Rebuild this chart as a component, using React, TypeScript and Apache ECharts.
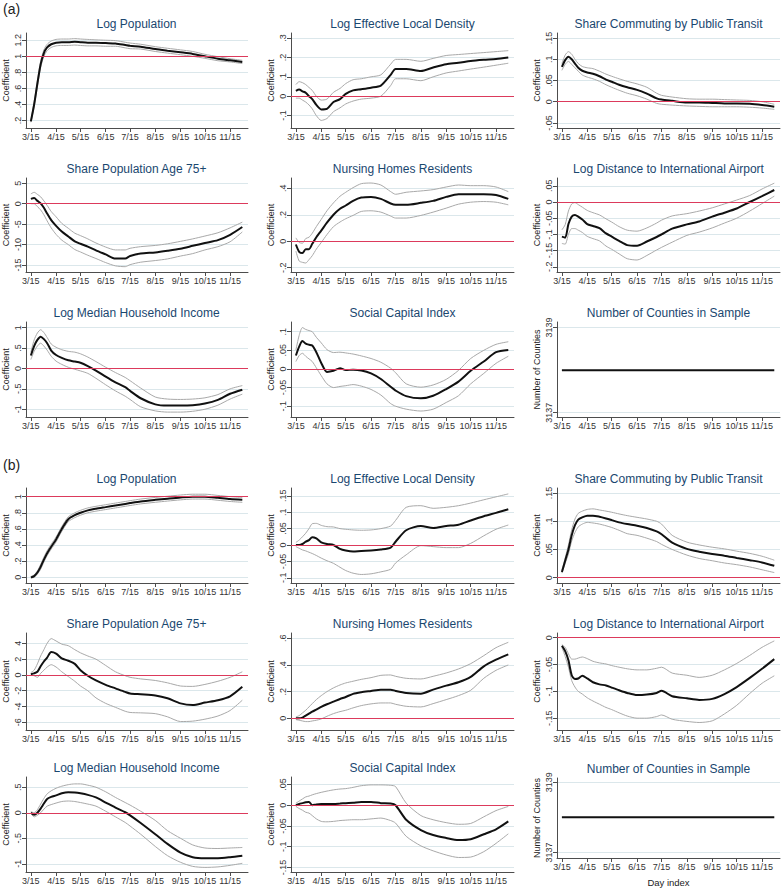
import React, { useEffect, useRef } from "react";
import * as echarts from "echarts";

// ---------- shared axes data ----------
const days = [0, 4, 8, 12, 16, 20, 25, 31, 38, 46, 54, 61, 70, 80, 92, 104, 116, 122, 135, 153, 168, 184, 199, 214, 230, 245, 260];
const monthTickDays = [0, 31, 61, 92, 122, 153, 184, 214, 245];
const monthTickLabels = ["3/15", "4/15", "5/15", "6/15", "7/15", "8/15", "9/15", "10/15", "11/15"];

const panelTitles = [
  "Log Population",
  "Log Effective Local Density",
  "Share Commuting by Public Transit",
  "Share Population Age 75+",
  "Nursing Homes Residents",
  "Log Distance to International Airport",
  "Log Median Household Income",
  "Social Capital Index",
  "Number of Counties in Sample",
];

// ---------- panel (a) ----------
const a1Est = [0.19, 0.40, 0.66, 0.90, 1.04, 1.11, 1.15, 1.17, 1.175, 1.175, 1.18, 1.175, 1.17, 1.17, 1.165, 1.16, 1.14, 1.13, 1.12, 1.09, 1.07, 1.05, 1.03, 1.00, 0.97, 0.95, 0.93];
const a1Hi = [0.20, 0.43, 0.70, 0.94, 1.08, 1.15, 1.19, 1.21, 1.215, 1.215, 1.22, 1.215, 1.21, 1.205, 1.20, 1.195, 1.175, 1.165, 1.15, 1.12, 1.10, 1.08, 1.06, 1.025, 0.995, 0.97, 0.95];
const a1Lo = [0.18, 0.37, 0.62, 0.86, 1.00, 1.07, 1.11, 1.13, 1.135, 1.135, 1.14, 1.135, 1.13, 1.13, 1.125, 1.125, 1.105, 1.095, 1.09, 1.06, 1.04, 1.02, 1.00, 0.975, 0.945, 0.93, 0.91];
const a1Ticks = [0.2, 0.4, 0.6, 0.8, 1, 1.2];

const a2Est = [0.027, 0.034, 0.025, 0.018, 0.0, -0.015, -0.045, -0.068, -0.065, -0.03, -0.015, 0.012, 0.03, 0.036, 0.044, 0.055, 0.11, 0.14, 0.14, 0.13, 0.148, 0.165, 0.172, 0.182, 0.188, 0.192, 0.2];
const a2Hi = [0.06, 0.075, 0.07, 0.06, 0.045, 0.03, 0.0, -0.02, -0.015, 0.02, 0.04, 0.065, 0.085, 0.09, 0.1, 0.11, 0.165, 0.19, 0.19, 0.18, 0.195, 0.21, 0.215, 0.22, 0.225, 0.23, 0.235];
const a2Lo = [-0.01, -0.01, -0.02, -0.03, -0.045, -0.065, -0.1, -0.125, -0.115, -0.08, -0.06, -0.04, -0.025, -0.015, -0.01, 0.0, 0.055, 0.09, 0.09, 0.08, 0.1, 0.12, 0.13, 0.14, 0.15, 0.16, 0.17];
const a2Ticks = [-0.1, 0, 0.1, 0.2, 0.3];

const a3Est = [0.082, 0.098, 0.106, 0.1, 0.09, 0.08, 0.073, 0.069, 0.066, 0.06, 0.052, 0.047, 0.04, 0.034, 0.028, 0.019, 0.008, 0.005, 0.002, -0.002, -0.002, -0.003, -0.004, -0.004, -0.005, -0.008, -0.012];
const a3Hi = [0.09, 0.11, 0.118, 0.112, 0.1, 0.09, 0.083, 0.08, 0.078, 0.072, 0.065, 0.06, 0.054, 0.048, 0.042, 0.034, 0.02, 0.015, 0.011, 0.007, 0.006, 0.006, 0.005, 0.004, 0.003, 0.0, -0.006];
const a3Lo = [0.074, 0.088, 0.095, 0.088, 0.08, 0.072, 0.063, 0.058, 0.054, 0.048, 0.04, 0.034, 0.027, 0.02, 0.014, 0.006, -0.004, -0.006, -0.008, -0.01, -0.011, -0.012, -0.012, -0.012, -0.013, -0.015, -0.018];
const a3Ticks = [-0.05, 0, 0.05, 0.1, 0.15];

const a4Est = [1.2, 1.4, 0.7, 0.1, -1.0, -2.4, -4.0, -5.4, -6.8, -8.0, -9.2, -9.8, -10.5, -11.4, -12.4, -13.4, -13.4, -12.8, -12.2, -11.9, -11.5, -11.0, -10.3, -9.6, -8.9, -7.6, -5.7];
const a4Hi = [2.4, 2.8, 2.3, 1.7, 0.7, -0.4, -1.9, -3.2, -4.8, -6.0, -7.2, -7.8, -8.6, -9.6, -10.6, -11.3, -11.3, -10.9, -10.5, -10.2, -9.8, -9.2, -8.6, -7.9, -7.1, -5.9, -4.5];
const a4Lo = [0.0, 0.0, -0.7, -1.5, -2.7, -4.2, -5.9, -7.5, -8.9, -10.0, -11.2, -11.8, -12.6, -13.4, -14.4, -15.2, -15.4, -14.9, -14.3, -13.9, -13.5, -12.8, -12.2, -11.3, -10.5, -9.3, -6.9];
const a4Ticks = [-15, -10, -5, 0, 5];

const a5Est = [-0.025, -0.08, -0.09, -0.06, -0.06, -0.02, 0.03, 0.08, 0.14, 0.2, 0.245, 0.27, 0.305, 0.33, 0.335, 0.32, 0.285, 0.275, 0.275, 0.29, 0.305, 0.335, 0.355, 0.355, 0.355, 0.35, 0.32];
const a5Hi = [0.025, -0.01, -0.015, 0.02, 0.03, 0.06, 0.11, 0.165, 0.23, 0.29, 0.34, 0.37, 0.405, 0.435, 0.44, 0.425, 0.375, 0.355, 0.37, 0.38, 0.39, 0.41, 0.425, 0.42, 0.42, 0.41, 0.375];
const a5Lo = [-0.075, -0.15, -0.16, -0.165, -0.14, -0.11, -0.06, -0.01, 0.05, 0.11, 0.145, 0.17, 0.195, 0.225, 0.23, 0.22, 0.19, 0.175, 0.175, 0.195, 0.22, 0.25, 0.28, 0.295, 0.3, 0.295, 0.275];
const a5Ticks = [-0.2, 0, 0.2, 0.4];

const a6Est = [-0.107, -0.11, -0.068, -0.045, -0.04, -0.045, -0.054, -0.068, -0.074, -0.081, -0.097, -0.107, -0.12, -0.133, -0.135, -0.122, -0.108, -0.1, -0.082, -0.069, -0.06, -0.045, -0.033, -0.02, 0.0, 0.018, 0.037];
const a6Hi = [-0.086, -0.07, -0.028, -0.006, -0.002, -0.008, -0.016, -0.026, -0.033, -0.04, -0.052, -0.062, -0.076, -0.087, -0.09, -0.08, -0.065, -0.056, -0.043, -0.036, -0.028, -0.018, -0.006, 0.006, 0.02, 0.04, 0.058];
const a6Lo = [-0.128, -0.13, -0.1, -0.082, -0.082, -0.087, -0.094, -0.106, -0.113, -0.12, -0.136, -0.146, -0.16, -0.175, -0.179, -0.165, -0.148, -0.14, -0.124, -0.103, -0.093, -0.08, -0.065, -0.05, -0.028, -0.005, 0.018];
const a6Ticks = [-0.2, -0.15, -0.1, -0.05, 0, 0.05];

const a7Est = [0.32, 0.55, 0.7, 0.78, 0.72, 0.62, 0.44, 0.33, 0.26, 0.2, 0.17, 0.14, 0.06, -0.05, -0.2, -0.34, -0.46, -0.55, -0.73, -0.88, -0.91, -0.91, -0.9, -0.86, -0.77, -0.62, -0.52];
const a7Hi = [0.4, 0.7, 0.87, 0.95, 0.88, 0.76, 0.6, 0.52, 0.46, 0.42, 0.4, 0.36, 0.28, 0.17, 0.03, -0.1, -0.22, -0.3, -0.48, -0.7, -0.75, -0.76, -0.75, -0.72, -0.64, -0.5, -0.42];
const a7Lo = [0.22, 0.42, 0.55, 0.62, 0.55, 0.45, 0.3, 0.18, 0.1, 0.03, -0.02, -0.06, -0.12, -0.24, -0.4, -0.55, -0.68, -0.76, -0.94, -1.04, -1.07, -1.07, -1.05, -1.0, -0.9, -0.75, -0.63];
const a7Ticks = [-1, -0.5, 0, 0.5, 1];

const a8Est = [0.036, 0.06, 0.075, 0.068, 0.065, 0.063, 0.045, 0.016, -0.008, -0.005, 0.002, -0.003, -0.002, -0.004, -0.012, -0.027, -0.048, -0.058, -0.073, -0.079, -0.072, -0.054, -0.034, -0.005, 0.02, 0.045, 0.051];
const a8Hi = [0.051, 0.09, 0.111, 0.106, 0.103, 0.1, 0.085, 0.07, 0.052, 0.044, 0.045, 0.043, 0.04, 0.035, 0.028, 0.018, 0.002, -0.01, -0.04, -0.049, -0.043, -0.028, -0.004, 0.028, 0.05, 0.066, 0.073];
const a8Lo = [0.02, 0.036, 0.042, 0.034, 0.027, 0.02, 0.003, -0.018, -0.04, -0.05, -0.047, -0.045, -0.042, -0.046, -0.055, -0.07, -0.093, -0.1, -0.108, -0.113, -0.108, -0.09, -0.072, -0.04, -0.012, 0.015, 0.034];
const a8Ticks = [-0.1, -0.05, 0, 0.05, 0.1];

// ---------- panel (b) ----------
const b1Est = [0.0, 0.015, 0.06, 0.13, 0.22, 0.3, 0.38, 0.47, 0.6, 0.72, 0.77, 0.8, 0.83, 0.85, 0.87, 0.89, 0.91, 0.92, 0.94, 0.96, 0.975, 0.99, 1.0, 1.0, 0.985, 0.97, 0.96];
const b1Hi = [0.01, 0.03, 0.08, 0.16, 0.25, 0.33, 0.41, 0.5, 0.63, 0.75, 0.8, 0.83, 0.86, 0.88, 0.9, 0.92, 0.94, 0.95, 0.97, 0.99, 1.005, 1.02, 1.03, 1.03, 1.015, 1.0, 0.99];
const b1Lo = [-0.01, 0.0, 0.04, 0.1, 0.19, 0.27, 0.35, 0.44, 0.57, 0.69, 0.74, 0.77, 0.8, 0.82, 0.84, 0.86, 0.88, 0.89, 0.91, 0.93, 0.945, 0.96, 0.97, 0.97, 0.955, 0.94, 0.93];
const b1Ticks = [0, 0.2, 0.4, 0.6, 0.8, 1];

const b2Est = [0.0, 0.0, 0.003, 0.01, 0.015, 0.024, 0.02, 0.008, 0.003, 0.0, -0.012, -0.017, -0.02, -0.018, -0.017, -0.014, -0.008, 0.01, 0.045, 0.058, 0.052, 0.058, 0.062, 0.075, 0.088, 0.098, 0.109];
const b2Hi = [0.008, 0.015, 0.025, 0.036, 0.05, 0.065, 0.066, 0.06, 0.056, 0.055, 0.05, 0.048, 0.046, 0.045, 0.046, 0.05, 0.058, 0.075, 0.115, 0.12, 0.112, 0.115, 0.12, 0.128, 0.138, 0.147, 0.156];
const b2Lo = [-0.005, -0.01, -0.015, -0.018, -0.022, -0.026, -0.032, -0.04, -0.048, -0.056, -0.068, -0.078, -0.086, -0.09, -0.088, -0.082, -0.074, -0.055, -0.03, -0.002, -0.005, -0.008, -0.008, 0.005, 0.028, 0.048, 0.061];
const b2Ticks = [-0.1, -0.05, 0, 0.05, 0.1, 0.15];

const b3Est = [0.01, 0.03, 0.05, 0.075, 0.093, 0.103, 0.107, 0.11, 0.11, 0.108, 0.105, 0.102, 0.098, 0.095, 0.092, 0.088, 0.082, 0.077, 0.062, 0.051, 0.046, 0.042, 0.039, 0.035, 0.031, 0.027, 0.021];
const b3Hi = [0.013, 0.035, 0.058, 0.085, 0.104, 0.114, 0.118, 0.121, 0.122, 0.12, 0.118, 0.116, 0.113, 0.11, 0.107, 0.104, 0.1, 0.095, 0.075, 0.063, 0.058, 0.054, 0.051, 0.047, 0.043, 0.038, 0.031];
const b3Lo = [0.008, 0.025, 0.042, 0.065, 0.08, 0.09, 0.095, 0.098, 0.097, 0.095, 0.092, 0.089, 0.084, 0.078, 0.075, 0.07, 0.064, 0.059, 0.05, 0.04, 0.034, 0.03, 0.026, 0.023, 0.019, 0.014, 0.009];
const b3Ticks = [0, 0.05, 0.1, 0.15];

const b4Est = [0.1, 0.2, 0.4, 1.1, 1.7, 2.2, 2.9, 2.7, 2.1, 1.8, 1.4, 0.6, -0.1, -0.7, -1.25, -1.7, -2.15, -2.35, -2.45, -2.6, -2.95, -3.6, -3.8, -3.5, -3.2, -2.7, -1.5];
const b4Hi = [0.3, 0.6, 1.4, 2.4, 3.2, 4.0, 4.6, 4.3, 3.9, 3.7, 3.2, 2.8, 2.4, 2.0, 1.2, 0.4, -0.1, -0.3, -0.5, -0.7, -1.0, -1.4, -1.45, -1.2, -0.8, -0.3, 0.4];
const b4Lo = [0.0, -0.1, -0.3, 0.2, 0.6, 1.0, 1.3, 1.0, 0.4, -0.2, -0.8, -1.4, -2.0, -2.9, -3.6, -4.1, -4.6, -4.75, -4.8, -4.9, -5.3, -5.9, -5.85, -5.6, -5.2, -4.5, -3.2];
const b4Ticks = [-6, -4, -2, 0, 2, 4];

const b5Est = [0.0, 0.0, 0.005, 0.02, 0.035, 0.05, 0.065, 0.085, 0.105, 0.125, 0.145, 0.16, 0.183, 0.195, 0.205, 0.215, 0.215, 0.205, 0.19, 0.185, 0.215, 0.245, 0.27, 0.31, 0.39, 0.44, 0.48];
const b5Hi = [0.01, 0.02, 0.04, 0.06, 0.085, 0.11, 0.14, 0.17, 0.2, 0.228, 0.25, 0.265, 0.278, 0.292, 0.305, 0.322, 0.325, 0.315, 0.3, 0.295, 0.315, 0.34, 0.37, 0.41, 0.47, 0.53, 0.57];
const b5Lo = [-0.01, -0.015, -0.02, -0.025, -0.025, -0.02, -0.015, -0.005, 0.015, 0.035, 0.05, 0.06, 0.078, 0.095, 0.108, 0.115, 0.115, 0.105, 0.09, 0.085, 0.11, 0.14, 0.17, 0.21, 0.3, 0.36, 0.4];
const b5Ticks = [0, 0.2, 0.4, 0.6];

const b6Est = [-0.015, -0.025, -0.042, -0.07, -0.077, -0.076, -0.071, -0.076, -0.083, -0.087, -0.089, -0.093, -0.098, -0.103, -0.107, -0.106, -0.103, -0.099, -0.109, -0.113, -0.116, -0.114, -0.105, -0.092, -0.075, -0.058, -0.04];
const b6Hi = [-0.013, -0.018, -0.03, -0.04, -0.04, -0.038, -0.036, -0.039, -0.044, -0.047, -0.049, -0.052, -0.055, -0.058, -0.06, -0.06, -0.057, -0.055, -0.066, -0.07, -0.074, -0.07, -0.06, -0.048, -0.033, -0.018, -0.006];
const b6Lo = [-0.018, -0.035, -0.055, -0.08, -0.092, -0.1, -0.105, -0.112, -0.118, -0.124, -0.13, -0.134, -0.14, -0.146, -0.15, -0.15, -0.147, -0.144, -0.152, -0.156, -0.158, -0.155, -0.142, -0.126, -0.104, -0.085, -0.071];
const b6Ticks = [-0.15, -0.1, -0.05, 0];

const b7Est = [0.0, -0.04, 0.0, 0.08, 0.18, 0.27, 0.31, 0.34, 0.38, 0.4, 0.395, 0.38, 0.35, 0.3, 0.2, 0.1, 0.01, -0.05, -0.2, -0.42, -0.61, -0.78, -0.87, -0.89, -0.89, -0.87, -0.84];
const b7Hi = [0.02, 0.0, 0.06, 0.17, 0.28, 0.37, 0.43, 0.48, 0.52, 0.55, 0.565, 0.565, 0.54, 0.5, 0.41, 0.3, 0.2, 0.15, 0.03, -0.15, -0.35, -0.5, -0.63, -0.69, -0.7, -0.69, -0.68];
const b7Lo = [-0.01, -0.08, -0.05, 0.0, 0.07, 0.13, 0.16, 0.19, 0.22, 0.23, 0.22, 0.2, 0.17, 0.13, 0.03, -0.08, -0.19, -0.26, -0.42, -0.66, -0.84, -0.97, -1.05, -1.07, -1.06, -1.03, -0.99];
const b7Ticks = [-1, -0.5, 0, 0.5];

const b8Est = [0.0, 0.003, 0.005, 0.007, 0.008, 0.0, 0.002, 0.003, 0.003, 0.003, 0.004, 0.005, 0.006, 0.008, 0.008, 0.005, 0.004, 0.0, -0.035, -0.06, -0.072, -0.079, -0.084, -0.082, -0.07, -0.058, -0.039];
const b8Hi = [0.005, 0.01, 0.015, 0.02, 0.022, 0.025, 0.028, 0.031, 0.034, 0.037, 0.039, 0.04, 0.043, 0.047, 0.049, 0.049, 0.048, 0.045, 0.005, -0.025, -0.035, -0.042, -0.046, -0.044, -0.028, -0.013, -0.003];
const b8Lo = [-0.003, -0.008, -0.012, -0.017, -0.019, -0.025, -0.033, -0.039, -0.04, -0.039, -0.037, -0.036, -0.035, -0.035, -0.033, -0.031, -0.037, -0.043, -0.075, -0.098, -0.11, -0.12, -0.126, -0.125, -0.112, -0.092, -0.069];
const b8Ticks = [-0.15, -0.1, -0.05, 0, 0.05];

// number of counties (same in both panels)
const countyDays = [0, 260];
const countyValues = [3138, 3138];
const countyTicks = [3137, 3139];

// ---------- layout (positions only) ----------
const colLeft = [25, 291, 557];
const plotWidth = 223;
const rowsA = [[33, 128], [178, 272], [322, 417]];
const rowsB = [[488, 583], [633, 730], [777, 872]];

const FONT = "'Liberation Sans', Arial, Helvetica, sans-serif";
const GRID_COLOR = "#dbe7eb";
const REF_COLOR = "#dc3a5c";
const CI_COLOR = "#a9a9a9";
const AXIS_COLOR = "#4d4d4d";
const TITLE_COLOR = "#1a476f";

type Panel = {
  title: string;
  est: number[];
  hi?: number[];
  lo?: number[];
  xs: number[];
  ticks: number[];
  min: number;
  max: number;
  ref: number | null;
  yName: string;
  left: number;
  top: number;
  bottom: number;
  xName?: string;
};

function stataLabel(v: number): string {
  const s = String(Math.round(v * 1000) / 1000);
  return s.replace(/^(-?)0\./, "$1.");
}

function buildPanels(): Panel[] {
  const aSets = [
    [a1Est, a1Hi, a1Lo, a1Ticks, 0.108, 1.29, 1],
    [a2Est, a2Hi, a2Lo, a2Ticks, -0.164, 0.326, 0],
    [a3Est, a3Hi, a3Lo, a3Ticks, -0.062, 0.162, 0],
    [a4Est, a4Hi, a4Lo, a4Ticks, -16.7, 6.3, 0],
    [a5Est, a5Hi, a5Lo, a5Ticks, -0.233, 0.478, 0],
    [a6Est, a6Hi, a6Lo, a6Ticks, -0.216, 0.074, 0],
    [a7Est, a7Hi, a7Lo, a7Ticks, -1.19, 1.14, 0],
    [a8Est, a8Hi, a8Lo, a8Ticks, -0.129, 0.126, 0],
  ] as any[];
  const bSets = [
    [b1Est, b1Hi, b1Lo, b1Ticks, -0.07, 1.107, 1],
    [b2Est, b2Hi, b2Lo, b2Ticks, -0.116, 0.174, 0],
    [b3Est, b3Hi, b3Lo, b3Ticks, -0.0095, 0.159, 0],
    [b4Est, b4Hi, b4Lo, b4Ticks, -6.97, 5.31, 0],
    [b5Est, b5Hi, b5Lo, b5Ticks, -0.088, 0.64, 0],
    [b6Est, b6Hi, b6Lo, b6Ticks, -0.172, 0.0087, 0],
    [b7Est, b7Hi, b7Lo, b7Ticks, -1.16, 0.7, 0],
    [b8Est, b8Hi, b8Lo, b8Ticks, -0.161, 0.068, 0],
  ] as any[];
  const panels: Panel[] = [];
  const addGroup = (sets: any[], rows: number[][], countyRange: [number, number], last: boolean) => {
    for (let i = 0; i < 9; i++) {
      const r = Math.floor(i / 3);
      const c = i % 3;
      let top = rows[r][0];
      let bottom = rows[r][1];
      if (i < 8) {
        const s = sets[i];
        panels.push({
          title: panelTitles[i], est: s[0], hi: s[1], lo: s[2], xs: days, ticks: s[3],
          min: s[4], max: s[5], ref: s[6], yName: "Coefficient",
          left: colLeft[c], top, bottom,
        });
      } else {
        if (last) { top = 778; bottom = 864; }
        panels.push({
          title: panelTitles[i], est: countyValues, xs: countyDays, ticks: countyTicks,
          min: countyRange[0], max: countyRange[1], ref: null, yName: "Number of Counties",
          left: colLeft[c], top, bottom, xName: last ? "Day index" : undefined,
        });
      }
    }
  };
  addGroup(aSets, rowsA, [3136.9, 3139.13], false);
  addGroup(bSets, rowsB, [3136.84, 3139.12], true);
  return panels;
}

function buildOption() {
  const panels = buildPanels();
  const grid: any[] = [];
  const xAxis: any[] = [];
  const yAxis: any[] = [];
  const series: any[] = [];
  const graphic: any[] = [];

  panels.forEach((p, i) => {
    grid.push({ left: p.left, top: p.top, width: plotWidth, height: p.bottom - p.top, containLabel: false });
    xAxis.push({
      type: "value", gridIndex: i, min: -6, max: 267,
      name: p.xName || "", nameLocation: "middle", nameGap: 19,
      nameTextStyle: { fontSize: 9.5, color: "#222", fontFamily: FONT },
      axisLine: { show: true, onZero: false, lineStyle: { color: AXIS_COLOR, width: 1 } },
      axisTick: { show: true, length: 4, customValues: monthTickDays, lineStyle: { color: AXIS_COLOR } },
      axisLabel: {
        customValues: monthTickDays, fontSize: 9, color: "#333", margin: 4, fontFamily: FONT,
        formatter: (v: number) => { const k = monthTickDays.indexOf(Math.round(v)); return k >= 0 ? monthTickLabels[k] : ""; },
      },
      splitLine: { show: false },
    });
    yAxis.push({
      type: "value", gridIndex: i, min: p.min, max: p.max,
      name: p.yName, nameLocation: "middle", nameGap: 16, nameRotate: 90,
      nameTextStyle: { fontSize: 9, color: "#222", fontFamily: FONT },
      axisLine: { show: true, onZero: false, lineStyle: { color: AXIS_COLOR, width: 1 } },
      axisTick: { show: true, length: 4, customValues: p.ticks, lineStyle: { color: AXIS_COLOR } },
      axisLabel: {
        customValues: p.ticks, rotate: 90, fontSize: 9, color: "#333", margin: 4, fontFamily: FONT,
        formatter: (v: number) => stataLabel(v),
      },
      splitLine: { show: true, lineStyle: { color: GRID_COLOR, width: 1 } },
    });
    const toData = (arr: number[]) => p.xs.map((d, k) => [d, arr[k]]);
    const refMark = p.ref === null ? undefined : {
      silent: true, symbol: ["none", "none"], label: { show: false },
      lineStyle: { color: REF_COLOR, width: 1.1, type: "solid" },
      data: [{ yAxis: p.ref }],
    };
    if (p.lo && p.hi) {
      series.push({
        type: "line", xAxisIndex: i, yAxisIndex: i, data: toData(p.lo), showSymbol: false, symbol: "none",
        smooth: 0.25, lineStyle: { color: CI_COLOR, width: 1 }, markLine: refMark, z: 2,
      });
      series.push({
        type: "line", xAxisIndex: i, yAxisIndex: i, data: toData(p.hi), showSymbol: false, symbol: "none",
        smooth: 0.25, lineStyle: { color: CI_COLOR, width: 1 }, z: 2,
      });
    }
    series.push({
      type: "line", xAxisIndex: i, yAxisIndex: i, data: toData(p.est), showSymbol: false, symbol: "none",
      smooth: 0.25, lineStyle: { color: "#111", width: 2 }, z: 3,
    });
    graphic.push({
      type: "text", x: p.left + plotWidth / 2, y: p.top - 9,
      style: { text: p.title, fontSize: 12, fill: TITLE_COLOR, fontFamily: FONT, align: "center", verticalAlign: "middle" },
    });
  });

  graphic.push({ type: "text", x: 3, y: 9, style: { text: "(a)", fontSize: 14, fill: "#222", fontFamily: FONT, align: "left", verticalAlign: "middle" } });
  graphic.push({ type: "text", x: 3, y: 465, style: { text: "(b)", fontSize: 14, fill: "#222", fontFamily: FONT, align: "left", verticalAlign: "middle" } });

  return {
    animation: false,
    backgroundColor: "#ffffff",
    textStyle: { fontFamily: FONT },
    grid, xAxis, yAxis, series, graphic,
  };
}

export default function App() {
  const ref = useRef<HTMLDivElement>(null);
  useEffect(() => {
    if (!ref.current) return;
    const chart = echarts.init(ref.current, undefined, { renderer: "svg" });
    chart.setOption(buildOption() as any);
    return () => chart.dispose();
  }, []);
  return (
    <div
      ref={ref}
      style={{ position: "fixed", left: 0, top: 0, width: 781, height: 888, background: "#fff" }}
    />
  );
}
